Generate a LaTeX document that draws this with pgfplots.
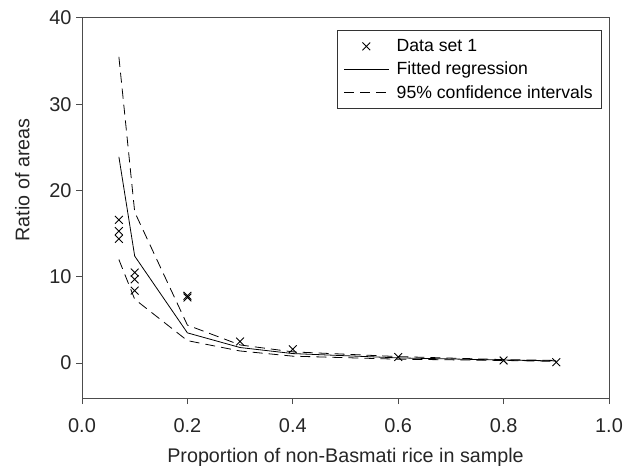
\documentclass[border=0pt]{standalone}
\usepackage{fontspec}
\setmainfont{Liberation Sans}
\usepackage{pgfplots}
\pgfplotsset{compat=1.18}
\begin{document}
\begin{tikzpicture}
\begin{axis}[
    name=main,
    scale only axis,
    width=527bp, height=380bp,
    xmin=0, xmax=1.0,
    ymin=-4.05, ymax=40,
    xtick={0,0.2,0.4,0.6,0.8,1.0},
    ytick={0,10,20,30,40},
    xticklabel style={/pgf/number format/fixed, /pgf/number format/fixed zerofill,
        /pgf/number format/precision=1, yshift=-11bp},
    /pgf/number format/assume math mode=true,
    tick align=outside,
    tick pos=left,
    major tick length=6bp,
    axis line style={line width=1pt, black!70},
    tick style={line width=1pt, black!70},
    ticklabel style={font=\fontsize{20}{23}\selectfont, text=black!85},
    yticklabel style={xshift=-1bp},
    xlabel={Proportion of non-Basmati rice in sample},
    ylabel={Ratio of areas},
    label style={font=\fontsize{19.8}{23}\selectfont, text=black!85},
    xlabel style={at={(axis description cs:0.5,0)}, anchor=base, yshift=-64bp},
    ylabel style={at={(axis description cs:0,0.574)}, anchor=south, yshift=49bp},
    legend image code/.code={\draw[mark repeat=2,mark phase=2,#1] plot coordinates {(0bp,0bp)(22bp,0bp)(45bp,0bp)};},
    legend style={at={(0.987,0.968)}, anchor=north east, draw=black!80, line width=0.8pt,
        font=\fontsize{17.7}{20}\selectfont, row sep=5bp,
        inner xsep=7bp, inner ysep=7bp, cells={anchor=west},
        /tikz/every odd column/.append style={column sep=5bp}},
    legend cell align=left,
]
\addplot[only marks, mark=x, mark size=5.5bp, mark options={line width=0.9pt}, black]
coordinates {(0.07,16.6)(0.07,15.3)(0.07,14.4)(0.1,10.5)(0.1,9.7)(0.1,8.4)
(0.2,7.8)(0.2,7.6)(0.3,2.5)(0.4,1.6)(0.6,0.7)(0.8,0.3)(0.9,0.1)};
\addlegendentry{Data set 1}
\addplot[black, line width=0.8pt]
coordinates {(0.07,23.9)(0.1,12.4)(0.2,3.5)(0.3,1.8)(0.4,1.1)(0.6,0.6)(0.8,0.35)(0.9,0.25)};
\addlegendentry{Fitted regression}
\addplot[black, line width=0.8pt, dash pattern=on 10bp off 6bp]
coordinates {(0.07,35.5)(0.1,17.5)(0.2,4.4)(0.3,2.1)(0.4,1.3)(0.6,0.75)(0.8,0.4)(0.9,0.3)};
\addlegendentry{95\% confidence intervals}
\addplot[black, line width=0.8pt, dash pattern=on 10bp off 6bp, forget plot]
coordinates {(0.07,12.0)(0.1,7.4)(0.2,2.6)(0.3,1.4)(0.4,0.8)(0.6,0.45)(0.8,0.3)(0.9,0.2)};
\end{axis}
\pgfresetboundingbox
\useasboundingbox (main.south west) ++(-82bp,-68bp) rectangle ++(624bp,466bp);
\end{tikzpicture}
\end{document}
